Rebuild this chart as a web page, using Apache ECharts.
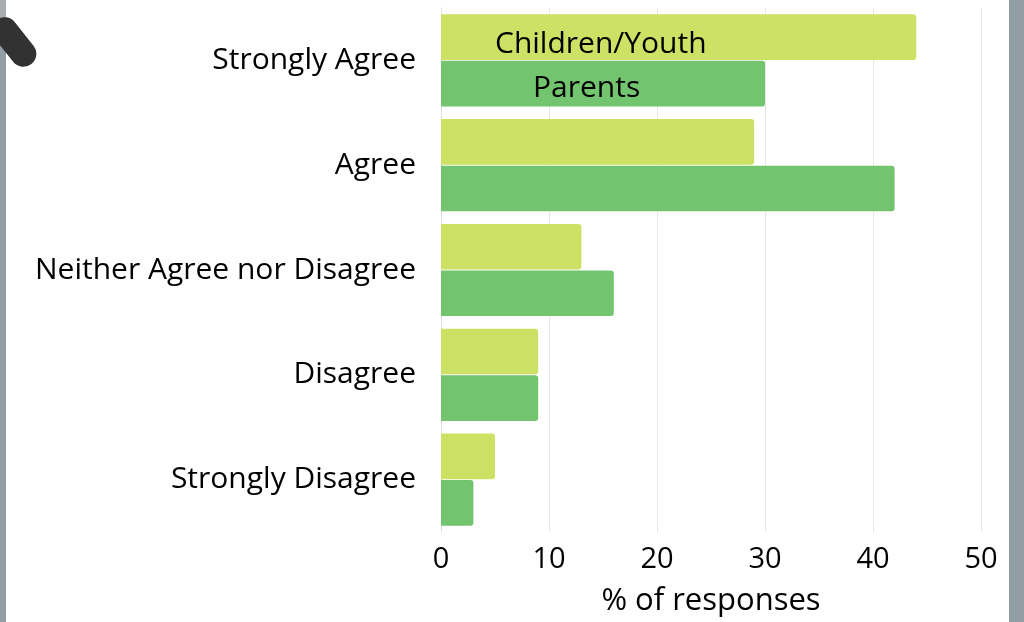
<!DOCTYPE html>
<html>
<head>
<meta charset="utf-8">
<script src="https://cdn.jsdelivr.net/npm/echarts@6/dist/echarts.min.js"></script>
<style>html,body{margin:0;padding:0;background:#fff;}#c{width:1024px;height:622px;}</style>
</head>
<body>
<div id="c"></div>
<script>
const categories = ['Strongly Agree', 'Agree', 'Neither Agree nor Disagree', 'Disagree', 'Strongly Disagree'];
const childrenYouth = [44, 29, 13, 9, 5];
const parents = [30, 42, 16, 9, 3];
const seriesNames = ['Children/Youth', 'Parents'];
const xTicks = [0, 10, 20, 30, 40, 50];
const xAxisName = '% of responses';

const FONT = 'Open Sans';
const chart = echarts.init(document.getElementById('c'));
chart.setOption({
  backgroundColor: '#ffffff',
  animation: false,
  grid: { left: 441, right: 43, top: 8, bottom: 77 },
  xAxis: {
    type: 'value', min: xTicks[0], max: xTicks[xTicks.length - 1], interval: 10,
    name: xAxisName, nameLocation: 'middle', nameGap: 54,
    nameTextStyle: { fontFamily: FONT, fontSize: 31, color: '#000' },
    axisLine: { show: false }, axisTick: { show: false },
    axisLabel: { fontFamily: FONT, fontSize: 29, color: '#000', margin: 13 },
    splitLine: { lineStyle: { color: '#e6e6e6', width: 1 } }
  },
  yAxis: {
    type: 'category', data: categories, inverse: true,
    axisLine: { show: true, lineStyle: { color: '#e0e0e0' } }, axisTick: { show: false },
    axisLabel: { fontFamily: FONT, fontSize: 30, color: '#000', margin: 25 }
  },
  series: [
    {
      name: seriesNames[0], type: 'bar', barGap: '2%', barCategoryGap: '12%',
      itemStyle: { color: '#cde264', borderRadius: [0, 3, 3, 0] },
      data: childrenYouth.map((v, i) => i === 0 ? {
        value: v,
        label: { show: true, formatter: seriesNames[0], position: [54, 30], verticalAlign: 'middle', fontFamily: FONT, fontSize: 30, color: '#000' }
      } : v)
    },
    {
      name: seriesNames[1], type: 'bar',
      itemStyle: { color: '#73c46e', borderRadius: [0, 3, 3, 0] },
      data: parents.map((v, i) => i === 0 ? {
        value: v,
        label: { show: true, formatter: seriesNames[1], position: [92, 28], verticalAlign: 'middle', fontFamily: FONT, fontSize: 30, color: '#000' }
      } : v)
    }
  ],
  graphic: [
    { type: 'rect', left: 0, top: 0, shape: { width: 6, height: 622 }, style: { fill: '#919ea3' }, z: 100 },
    { type: 'rect', left: 1009, top: 0, shape: { width: 15, height: 622 }, style: { fill: '#919ea3' }, z: 100 },
    { type: 'rect', x: 0, y: 0, shape: { width: 6, height: 34 }, style: { fill: '#a9adaf' }, z: 101 },
    { type: 'rect', x: 14, y: 42, rotation: -0.9, shape: { x: -28, y: -13, width: 56, height: 26, r: 13 }, style: { fill: '#333233' }, z: 102 }
  ]
});
</script>
</body>
</html>
